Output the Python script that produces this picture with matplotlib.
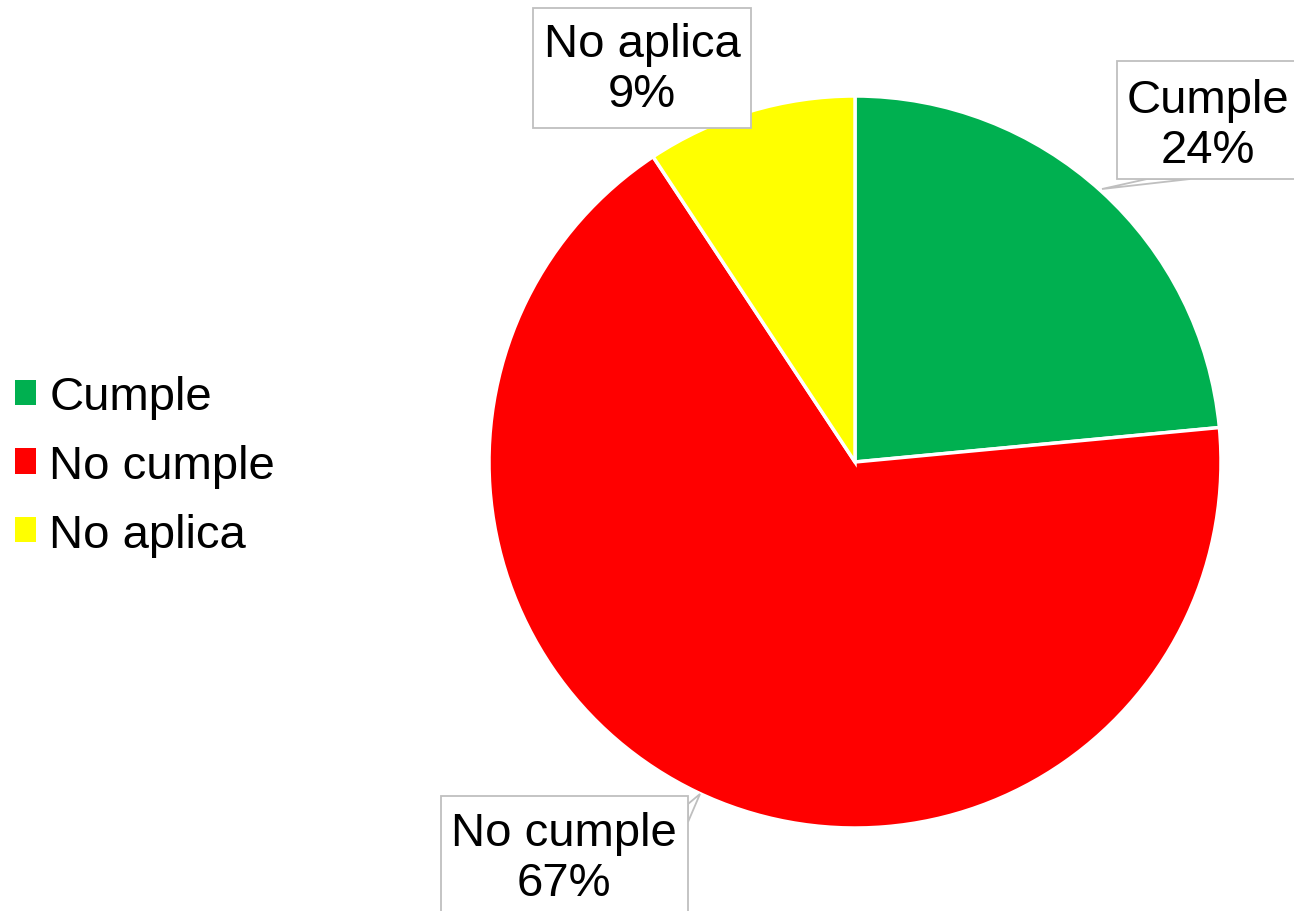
import numpy as np
import matplotlib
matplotlib.use('Agg')
import matplotlib.pyplot as plt
from matplotlib.patches import Patch, Rectangle, Polygon

# data
categories = ['Cumple', 'No cumple', 'No aplica']
shares = [23.5, 67.2, 9.3]
colors = ['#00b050', '#ff0000', '#ffff00']

plt.rcParams['font.family'] = ['Liberation Sans', 'DejaVu Sans']

W, H = 1294, 912
cx, cy, R = 855, 463, 366

fig = plt.figure(figsize=(W / 100, H / 100), dpi=100)
ax = fig.add_axes([0, 0, 1, 1])


def px(x, y):
    # pixel (top-left origin) to data coords
    return (x - cx) / R, (cy - y) / R


ax.pie(shares, colors=colors, startangle=90, counterclock=False, radius=1,
       wedgeprops=dict(edgecolor='white', linewidth=2.5))
# pie resets limits, so set them afterwards: axes units = pie radius
ax.set_xlim((0 - cx) / R, (W - cx) / R)
ax.set_ylim(-(H - cy) / R, cy / R)
ax.set_aspect('auto')
ax.axis('off')

# callout boxes: (x0, y0, x1, y1) in pixels, tail polygon in pixels
boxes = [
    ((1117, 62, 1310, 180), [(1147, 180), (1190, 180), (1102, 190)]),
    ((441, 797, 688, 930), [(688, 805), (688, 823), (700, 795)]),
    ((533, 9, 751, 129), None),
]
gray = '#bfbfbf'
for (i, ((x0, y0, x1, y1), tail)) in enumerate(boxes):
    a = px(x0, y1)
    b = px(x1, y0)
    ax.add_patch(Rectangle(a, b[0] - a[0], b[1] - a[1], facecolor='white',
                           edgecolor=gray, linewidth=1.3, zorder=5))
    if tail:
        ax.add_patch(Polygon([px(*p) for p in tail], closed=True,
                             facecolor='white', edgecolor=gray,
                             linewidth=1.3, zorder=4))
    txt = f'{categories[i]}\n{shares[i]:.0f}%'
    if i == 0:
        tx = px(1208, 126)
    elif i == 1:
        tx = px(564, 859)
    else:
        tx = px(642, 70)
    ax.text(*tx, txt, ha='center', va='center', fontsize=34,
            linespacing=1.2, zorder=6)

handles = [Patch(facecolor=c, edgecolor='none') for c in colors]
fig.legend(handles, categories, loc='center left',
           bbox_to_anchor=(15 / W, 1 - 467 / H), frameon=False,
           fontsize=34, handlelength=0.45, handleheight=0.45,
           handletextpad=0.28, labelspacing=0.52, borderpad=0,
           borderaxespad=0)

fig.savefig('out.png', dpi=100)
